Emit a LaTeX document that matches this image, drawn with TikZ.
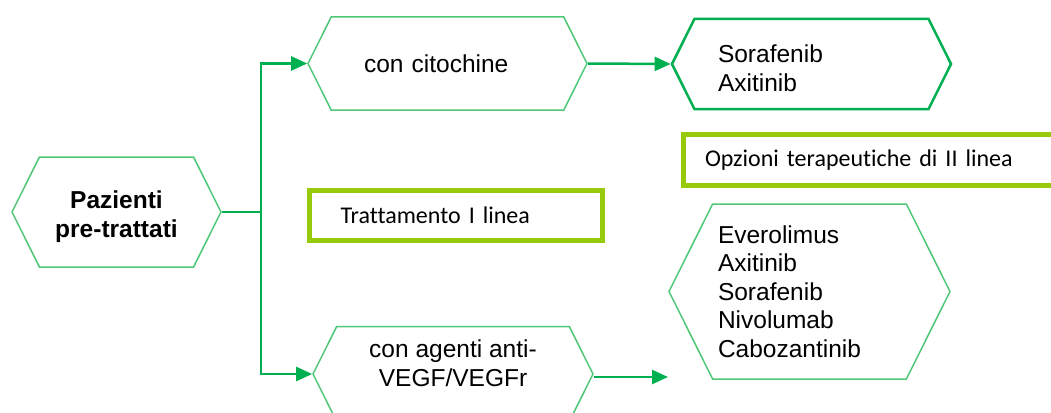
\documentclass[tikz,border=0pt]{standalone}
\usepackage{fontspec}
\setmainfont{Liberation Sans}
\newfontfamily\calibri[Ligatures=CommonOff]{Carlito}
\usetikzlibrary{arrows.meta,shapes.symbols}

\definecolor{hexgreen}{RGB}{80,200,120}
\definecolor{linegreen}{RGB}{0,176,80}
\definecolor{limegreen}{RGB}{150,202,10}

\tikzset{
  hexa/.style={shape=signal, signal to=east and west, signal pointer angle=127,
    draw=hexgreen, line width=1.5pt, inner sep=0pt,
    font=\fontsize{24.5}{28.5}\selectfont},
  hexathick/.style={hexa, draw=linegreen, line width=2.5pt},
  linebox/.style={draw=limegreen, line width=5pt, inner ysep=0pt, align=left,
    font=\calibri\fontsize{24}{28}\selectfont},
  conn/.style={draw=linegreen, line width=2.5pt},
  arr/.style={conn, -{Triangle[length=16pt,width=14pt]}},
}

\begin{document}
\begin{tikzpicture}[x=1pt,y=-1pt]
    \useasboundingbox (0,0) rectangle (1051,412);

    % Pazienti
    \node[hexa, minimum width=209pt, minimum height=110pt, align=center, text height=56pt,
      font=\fontsize{24.5}{28.5}\selectfont\bfseries] (pazienti) at (116.5,212) {Pazienti\\pre-trattati};

    % Prima linea
    \node[hexa, minimum width=279pt, minimum height=93pt, text width=167pt, align=left] (citochine) at (447.5,63.5) {con citochine};
    \node[hexa, minimum width=280pt, minimum height=95pt, align=center, text depth=22pt] (vegf) at (453,374) {con agenti anti-\\VEGF/VEGFr};

    % Seconda linea
    \node[hexathick, minimum width=279pt, minimum height=90pt, text width=187pt, align=left, text height=26pt] (sorafenib) at (811.5,64) {Sorafenib\\Axitinib};
    \node[hexa, minimum width=281pt, minimum height=175pt, text width=183pt, align=left] (farmaci) at (809.5,291.5) {Everolimus\\Axitinib\\Sorafenib\\Nivolumab\\Cabozantinib};

    % Etichette
    \node[linebox, minimum width=293pt, minimum height=50pt, inner xsep=31pt, text width=231pt] (primalinea) at (456,215.5) {Trattamento I linea};
    \node[linebox, minimum width=394pt, minimum height=51pt, inner xsep=22pt, text width=350pt] (secondalinea) at (880,160) {Opzioni terapeutiche di II linea};

    % Collegamenti
    \coordinate (split) at (261,212);
    \coordinate (fine) at (668,377);
    \draw[conn] (pazienti.east) -- (split);
    \draw[arr] (split) |- (citochine.west);
    \draw[arr] (split) |- (vegf.west);
    \draw[arr] (citochine.east) -- (sorafenib.west);
    \draw[arr] (vegf.east |- fine) -- (fine);
\end{tikzpicture}
\end{document}
